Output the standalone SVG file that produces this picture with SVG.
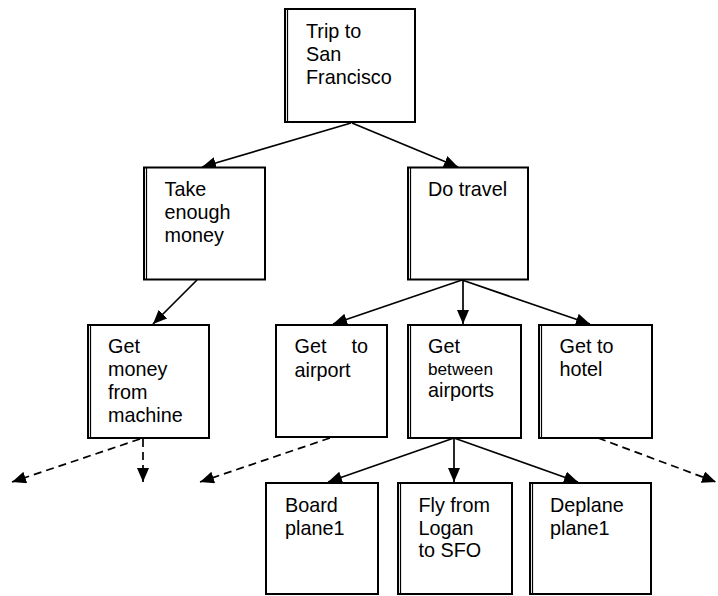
<svg xmlns="http://www.w3.org/2000/svg" width="718" height="596" viewBox="0 0 718 596">
<style>
.box{fill:#fff;stroke:#000;stroke-width:2}
.edge{stroke:#000;stroke-width:1.2}
.t{font-family:"Liberation Sans",Arial,sans-serif;font-size:19.8px;fill:#000}
.s{font-size:17.2px}
.c{stroke:#000;stroke-width:1.7;fill:none;marker-end:url(#ah)}
.d{stroke-dasharray:8 5}
</style>
<defs>
<marker id="ah" markerUnits="userSpaceOnUse" markerWidth="15" markerHeight="12" refX="14" refY="6" orient="auto">
<path d="M0,0 L14,6 L0,12 z" fill="#000"/>
</marker>
</defs>
<rect width="718" height="596" fill="#fff"/>
<g id="connectors">
<line class="c" x1="351" y1="123" x2="202" y2="167"/>
<line class="c" x1="352" y1="123" x2="458" y2="167"/>
<line class="c" x1="197" y1="280" x2="153" y2="324"/>
<line class="c" x1="462" y1="280" x2="333" y2="324"/>
<line class="c" x1="463" y1="280" x2="463" y2="324"/>
<line class="c" x1="462" y1="280" x2="590" y2="324"/>
<line class="c" x1="454" y1="438" x2="328" y2="482"/>
<line class="c" x1="454" y1="438" x2="454" y2="482"/>
<line class="c" x1="454" y1="438" x2="578" y2="482"/>
<line class="c d" x1="140" y1="439" x2="12" y2="482"/>
<line class="c d" x1="143" y1="439" x2="143" y2="482"/>
<line class="c d" x1="330" y1="438" x2="200" y2="482"/>
<line class="c d" x1="598" y1="438" x2="716" y2="482"/>
</g>
<g id="n-trip">
<rect class="box" x="285" y="9" width="130" height="113"/>
<line class="edge" x1="287.5" y1="9" x2="287.5" y2="122"/>
<text class="t" x="306" y="38">Trip to</text>
<text class="t" x="306" y="61">San</text>
<text class="t" x="306" y="84">Francisco</text>
</g>
<g id="n-take">
<rect class="box" x="144" y="167.5" width="121" height="112"/>
<line class="edge" x1="146.5" y1="167.5" x2="146.5" y2="279.5"/>
<text class="t" x="164.5" y="196">Take</text>
<text class="t" x="164.5" y="219">enough</text>
<text class="t" x="164.5" y="242">money</text>
</g>
<g id="n-travel">
<rect class="box" x="408" y="167.5" width="120" height="112"/>
<line class="edge" x1="410.5" y1="167.5" x2="410.5" y2="279.5"/>
<text class="t" x="428" y="195.5">Do travel</text>
</g>
<g id="n-money">
<rect class="box" x="88" y="325" width="121" height="113"/>
<line class="edge" x1="90.5" y1="325" x2="90.5" y2="438"/>
<text class="t" x="108" y="353">Get</text>
<text class="t" x="108" y="376">money</text>
<text class="t" x="108" y="399">from</text>
<text class="t" x="108" y="422">machine</text>
</g>
<g id="n-airport">
<rect class="box" x="276" y="325" width="111" height="112"/>
<text class="t" x="294.5" y="353">Get</text>
<text class="t" x="368" y="353" text-anchor="end">to</text>
<text class="t" x="294.5" y="376.5">airport</text>
</g>
<g id="n-between">
<rect class="box" x="408" y="325" width="113" height="113"/>
<line class="edge" x1="410.5" y1="325" x2="410.5" y2="438"/>
<text class="t" x="428" y="353">Get</text>
<text class="t s" x="428" y="374.5">between</text>
<text class="t" x="428" y="396.5">airports</text>
</g>
<g id="n-hotel">
<rect class="box" x="539" y="325" width="113" height="113"/>
<line class="edge" x1="541.5" y1="325" x2="541.5" y2="438"/>
<text class="t" x="559.5" y="353">Get to</text>
<text class="t" x="559.5" y="376">hotel</text>
</g>
<g id="n-board">
<rect class="box" x="266" y="483" width="112" height="111"/>
<text class="t" x="285" y="511.5">Board</text>
<text class="t" x="285" y="534.5">plane1</text>
</g>
<g id="n-fly">
<rect class="box" x="398" y="483" width="114" height="111"/>
<line class="edge" x1="400.5" y1="483" x2="400.5" y2="594"/>
<text class="t" x="418.5" y="511.5">Fly from</text>
<text class="t" x="418.5" y="534.5">Logan</text>
<text class="t" x="418.5" y="557">to SFO</text>
</g>
<g id="n-deplane">
<rect class="box" x="530" y="483" width="121" height="111"/>
<line class="edge" x1="532.5" y1="483" x2="532.5" y2="594"/>
<text class="t" x="550" y="511.5">Deplane</text>
<text class="t" x="550" y="534.5">plane1</text>
</g>
</svg>
